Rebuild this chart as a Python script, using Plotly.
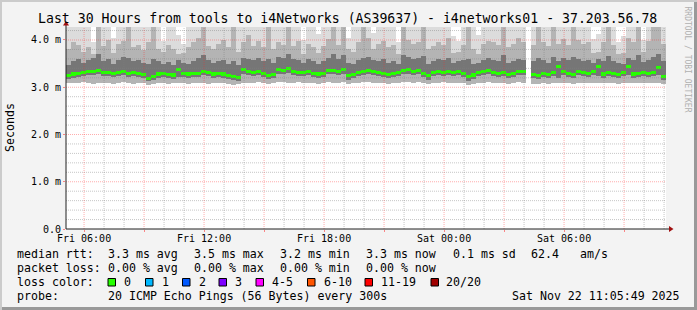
import numpy as np
import pandas as pd
import plotly.graph_objects as go

# ---------------- data ----------------
TITLE = "Last 30 Hours from tools to i4Networks (AS39637) - i4networks01 - 37.203.56.78"
START = "2025-11-21 05:05:49"
END = "2025-11-22 11:05:49"
STEP_MIN = 15

MEDIAN = [
    3.24, 3.28, 3.30, 3.31, 3.33, 3.34, 3.35, 3.31, 3.32, 3.29, 3.31, 3.33, 3.30, 3.32, 3.30, 3.27, 3.18, 3.23, 3.28, 3.29,
    3.27, 3.26, 3.38, 3.30, 3.28, 3.30, 3.29, 3.33, 3.31, 3.28, 3.29, 3.28, 3.25, 3.23, 3.21, 3.37, 3.33, 3.32, 3.33, 3.30,
    3.25, 3.27, 3.37, 3.35, 3.39, 3.34, 3.32, 3.31, 3.33, 3.29, 3.28, 3.30, 3.35, 3.36, 3.34, 3.37, 3.24, 3.27, 3.32, 3.33,
    3.36, 3.33, 3.31, 3.30, 3.27, 3.29, 3.32, 3.35, 3.37, 3.34, 3.36, 3.29, 3.24, 3.31, 3.33, 3.32, 3.34, 3.31, 3.33, 3.30,
    3.22, 3.26, 3.31, 3.33, 3.35, 3.31, 3.30, 3.31, 3.27, 3.30, 3.34, 3.33, None, 3.27, 3.25, 3.29, 3.27, 3.31, 3.44, 3.33,
    3.30, 3.27, 3.34, 3.31, 3.29, 3.33, 3.43, 3.28, 3.32, 3.30, 3.27, 3.31, 3.44, 3.28, 3.30, 3.32, 3.29, 3.31, 3.42, 3.22,
]
LO = [
    3.10, 3.08, 3.09, 3.11, 3.10, 3.07, 3.09, 3.08, 3.10, 3.06, 3.09, 3.11, 3.08, 3.07, 3.10, 3.08, 3.05, 3.06, 3.09, 3.08,
    3.07, 3.09, 3.10, 3.08, 3.06, 3.09, 3.10, 3.08, 3.07, 3.09, 3.10, 3.08, 3.06, 3.05, 3.06, 3.10, 3.09, 3.08, 3.11, 3.09,
    3.06, 3.08, 3.12, 3.11, 3.10, 3.09, 3.11, 3.08, 3.10, 3.09, 3.07, 3.10, 3.11, 3.09, 3.10, 3.12, 3.07, 3.08, 3.10, 3.11,
    3.12, 3.10, 3.09, 3.08, 3.07, 3.08, 3.10, 3.11, 3.12, 3.10, 3.11, 3.08, 3.06, 3.09, 3.10, 3.11, 3.10, 3.09, 3.10, 3.08,
    3.05, 3.07, 3.09, 3.10, 3.11, 3.09, 3.08, 3.10, 3.07, 3.09, 3.11, 3.10, None, 3.07, 3.06, 3.08, 3.07, 3.09, 3.08, 3.10,
    3.09, 3.07, 3.10, 3.09, 3.08, 3.10, 3.09, 3.08, 3.10, 3.09, 3.07, 3.09, 3.10, 3.08, 3.09, 3.10, 3.08, 3.09, 3.10, 3.06,
]
Q1 = [
    3.17, 3.20, 3.22, 3.23, 3.25, 3.25, 3.27, 3.23, 3.24, 3.21, 3.23, 3.25, 3.22, 3.24, 3.22, 3.19, 3.13, 3.15, 3.20, 3.21,
    3.19, 3.18, 3.21, 3.22, 3.20, 3.22, 3.21, 3.25, 3.23, 3.20, 3.21, 3.20, 3.17, 3.15, 3.13, 3.28, 3.25, 3.24, 3.25, 3.22,
    3.17, 3.19, 3.28, 3.27, 3.30, 3.26, 3.24, 3.23, 3.25, 3.21, 3.20, 3.22, 3.27, 3.28, 3.26, 3.28, 3.16, 3.19, 3.24, 3.25,
    3.28, 3.25, 3.23, 3.22, 3.19, 3.21, 3.24, 3.27, 3.28, 3.26, 3.28, 3.21, 3.16, 3.23, 3.25, 3.24, 3.26, 3.23, 3.25, 3.22,
    3.14, 3.18, 3.23, 3.25, 3.27, 3.23, 3.22, 3.23, 3.19, 3.22, 3.26, 3.25, None, 3.19, 3.17, 3.21, 3.19, 3.23, 3.20, 3.25,
    3.22, 3.19, 3.26, 3.23, 3.21, 3.25, 3.23, 3.20, 3.24, 3.22, 3.19, 3.23, 3.25, 3.20, 3.22, 3.24, 3.21, 3.23, 3.25, 3.16,
]
Q3 = [
    3.48, 3.55, 3.60, 3.52, 3.58, 3.62, 3.70, 3.55, 3.60, 3.50, 3.57, 3.65, 3.62, 3.55, 3.58, 3.52, 3.50, 3.60, 3.55, 3.50,
    3.53, 3.48, 3.58, 3.52, 3.50, 3.56, 3.62, 3.68, 3.57, 3.52, 3.55, 3.58, 3.50, 3.55, 3.47, 3.62, 3.60, 3.57, 3.62, 3.55,
    3.60, 3.52, 3.65, 3.62, 3.70, 3.60, 3.57, 3.52, 3.60, 3.55, 3.50, 3.56, 3.62, 3.70, 3.60, 3.68, 3.52, 3.50, 3.58, 3.62,
    3.65, 3.57, 3.55, 3.60, 3.52, 3.55, 3.50, 3.68, 3.65, 3.60, 3.62, 3.66, 3.50, 3.55, 3.60, 3.57, 3.62, 3.52, 3.55, 3.58,
    3.60, 3.50, 3.52, 3.57, 3.62, 3.58, 3.55, 3.68, 3.52, 3.56, 3.60, 3.58, None, 3.55, 3.62, 3.57, 3.52, 3.65, 3.56, 3.62,
    3.58, 3.65, 3.60, 3.55, 3.57, 3.52, 3.60, 3.55, 3.66, 3.56, 3.52, 3.50, 3.62, 3.57, 3.68, 3.54, 3.58, 3.65, 3.70, 3.55,
]
P90 = [
    3.80, 3.95, 3.90, 3.75, 3.85, 3.70, 4.50, 3.88, 4.00, 3.72, 3.92, 3.98, 4.50, 3.85, 3.90, 3.78, 3.95, 4.50, 3.82, 3.75,
    3.90, 3.80, 3.70, 3.72, 3.85, 3.95, 4.05, 4.50, 3.88, 3.80, 3.92, 4.00, 3.85, 4.50, 3.75, 3.95, 4.10, 3.88, 3.98, 3.85,
    4.50, 3.82, 3.95, 3.90, 4.50, 3.88, 3.97, 3.70, 3.92, 3.85, 3.72, 3.88, 4.02, 4.50, 3.90, 4.50, 3.80, 3.75, 3.95, 4.50,
    4.05, 3.80, 3.92, 3.98, 3.85, 3.90, 3.70, 4.50, 4.00, 3.92, 3.95, 4.50, 3.82, 3.88, 3.96, 3.90, 4.05, 3.72, 3.75, 3.90,
    4.50, 3.80, 3.70, 3.92, 3.98, 3.95, 3.90, 4.50, 3.85, 3.92, 4.05, 3.95, None, 3.90, 4.50, 3.95, 3.88, 4.50, 3.92, 4.02,
    3.90, 4.50, 4.00, 3.92, 3.95, 3.72, 3.75, 3.96, 4.50, 3.90, 3.70, 3.72, 4.05, 3.95, 4.50, 3.75, 3.98, 4.50, 4.50, 3.92,
]
HI = [
    4.50, 4.50, 4.50, 4.50, 4.50, 3.95, 4.50, 4.50, 4.50, 4.05, 4.50, 4.50, 4.50, 4.50, 4.50, 4.50, 4.50, 4.50, 4.50, 3.98,
    4.50, 4.50, 4.10, 3.92, 4.50, 4.50, 4.50, 4.50, 4.50, 4.50, 4.50, 4.50, 4.50, 4.50, 4.50, 4.50, 4.50, 4.50, 4.50, 4.50,
    4.50, 4.50, 4.50, 4.50, 4.50, 4.50, 4.50, 4.00, 4.50, 4.50, 4.12, 4.50, 4.50, 4.50, 4.50, 4.50, 4.05, 4.50, 4.50, 4.50,
    4.50, 4.15, 4.50, 4.50, 4.50, 4.50, 3.95, 4.50, 4.50, 4.50, 4.50, 4.50, 4.50, 4.50, 4.50, 4.50, 4.50, 4.08, 3.98, 4.50,
    4.50, 4.50, 4.10, 4.50, 4.50, 4.50, 4.50, 4.50, 4.50, 4.50, 4.50, 4.50, None, 4.50, 4.50, 4.50, 4.50, 4.50, 4.50, 4.50,
    4.50, 4.50, 4.50, 4.50, 4.50, 4.02, 4.12, 4.50, 4.50, 4.50, 3.96, 4.08, 4.50, 4.50, 4.50, 4.00, 4.50, 4.50, 4.50, 4.50,
]

X_TICKS = ["2025-11-21 06:00", "2025-11-21 09:00", "2025-11-21 12:00", "2025-11-21 15:00",
           "2025-11-21 18:00", "2025-11-21 21:00", "2025-11-22 00:00", "2025-11-22 03:00",
           "2025-11-22 06:00", "2025-11-22 09:00"]
X_LABELS = ["Fri 06:00", "", "Fri 12:00", "", "Fri 18:00", "", "Sat 00:00", "", "Sat 06:00", ""]
Y_TICKS = [0, 1, 2, 3, 4]
Y_LABELS = ["0.0", "1.0 m", "2.0 m", "3.0 m", "4.0 m"]
Y_TITLE = "Seconds"
SIDE_TEXT = "RRDTOOL / TOBI OETIKER"

LEGEND_RTT = ["median rtt:", "3.3 ms avg", "3.5 ms max", "3.2 ms min", "3.3 ms now", "0.1 ms sd", "62.4", "am/s"]
LEGEND_LOSS = ["packet loss:", "0.00 % avg", "0.00 % max", "0.00 % min", "0.00 % now"]
LOSS_HEAD = "loss color:"
LOSS_NAMES = ["0", "1", "2", "3", "4-5", "6-10", "11-19", "20/20"]
LOSS_COLORS = ["#26ff00", "#00b8ff", "#0059ff", "#7e00ff", "#ff00ff", "#ff5500", "#ff0000", "#a00000"]
PROBE = ["probe:", "20 ICMP Echo Pings (56 Bytes) every 300s"]
STAMP = "Sat Nov 22 11:05:49 2025"

# ---------------- geometry / style ----------------
W, H = 697, 310
PL, PR, PT, PB = 66, 666, 27, 229
Y_MAX = 4.275
FONT = "DejaVu Sans Mono"


def xp(px):
    return (px - PL) / (PR - PL)


def yp(py):
    return (PB - py) / (PB - PT)


n = len(MEDIAN)
start = pd.Timestamp(START)
step = pd.Timedelta(minutes=STEP_MIN)
centers = [start + step * (i + 0.5) for i in range(n)]
step_ms = STEP_MIN * 60 * 1000

arr = lambda a: np.array([np.nan if v is None else v for v in a], dtype=float)
med, lo, q1, q3, p90, hi = map(arr, (MEDIAN, LO, Q1, Q3, P90, HI))

fig = go.Figure()
bands = [(lo, hi, "#dcdcdc"), (lo, p90, "#b4b4b4"), (q1, q3, "#767676")]
for b0, b1, col in bands:
    fig.add_trace(go.Bar(x=centers, base=b0, y=b1 - b0, width=step_ms,
                         marker=dict(color=col, line=dict(width=0)),
                         hoverinfo="skip", showlegend=False))
# median line (loss colour 0)
thick = 0.065
fig.add_trace(go.Bar(x=centers, base=med - thick / 2, y=np.where(np.isnan(med), np.nan, thick),
                     width=step_ms, marker=dict(color=LOSS_COLORS[0], line=dict(width=0)),
                     hoverinfo="skip", showlegend=False))

GRID = "rgba(128,128,128,0.45)"
MGRID = "rgba(255,40,40,0.38)"
shapes = []
# grid (drawn above the smoke like rrdtool)
minor_x = pd.date_range("2025-11-21 06:00", "2025-11-22 11:00", freq="1h")
for t in minor_x:
    if t.hour % 3:
        shapes.append(dict(type="line", xref="x", yref="paper", x0=t, x1=t, y0=0, y1=1,
                           line=dict(color=GRID, width=1, dash="1px,1px"), layer="above"))
for v in np.arange(0.2, 4.21, 0.2):
    if abs(v - round(v)) > 1e-6:
        shapes.append(dict(type="line", xref="paper", yref="y", x0=0, x1=1, y0=v, y1=v,
                           line=dict(color=GRID, width=1, dash="1px,1px"), layer="above"))
for t in X_TICKS:
    shapes.append(dict(type="line", xref="x", yref="paper", x0=t, x1=t, y0=0, y1=1,
                       line=dict(color=MGRID, width=1, dash="1px,1px"), layer="above"))
for v in Y_TICKS[1:]:
    shapes.append(dict(type="line", xref="paper", yref="y", x0=0, x1=1, y0=v, y1=v,
                       line=dict(color=MGRID, width=1, dash="1px,1px"), layer="above"))

# axes with arrows
AX = "#202020"
shapes.append(dict(type="line", xref="paper", yref="paper", x0=xp(PL), x1=xp(670), y0=0, y1=0,
                   line=dict(color=AX, width=1), layer="above"))
shapes.append(dict(type="line", xref="paper", yref="paper", x0=0, x1=0, y0=0, y1=yp(24),
                   line=dict(color=AX, width=1), layer="above"))
ARROW = "#a01010"
shapes.append(dict(type="path", xref="paper", yref="paper",
                   path=f"M {xp(673.5)} {yp(PB)} L {xp(669)} {yp(PB - 3)} L {xp(669)} {yp(PB + 3)} Z",
                   fillcolor=ARROW, line=dict(width=0), layer="above"))
shapes.append(dict(type="path", xref="paper", yref="paper",
                   path=f"M {xp(PL)} {yp(21)} L {xp(PL - 3)} {yp(25.5)} L {xp(PL + 3)} {yp(25.5)} Z",
                   fillcolor=ARROW, line=dict(width=0), layer="above"))

# 3D frame
shapes.append(dict(type="rect", xref="paper", yref="paper", x0=xp(0), x1=xp(W), y0=yp(0), y1=yp(2),
                   fillcolor="#cbcbcb", line=dict(width=0), layer="below"))
shapes.append(dict(type="rect", xref="paper", yref="paper", x0=xp(0), x1=xp(2), y0=yp(0), y1=yp(H),
                   fillcolor="#cbcbcb", line=dict(width=0), layer="below"))
shapes.append(dict(type="rect", xref="paper", yref="paper", x0=xp(2), x1=xp(W), y0=yp(H - 3), y1=yp(H),
                   fillcolor="#999999", line=dict(width=0), layer="below"))
shapes.append(dict(type="rect", xref="paper", yref="paper", x0=xp(W - 3), x1=xp(W), y0=yp(2), y1=yp(H),
                   fillcolor="#999999", line=dict(width=0), layer="below"))

# legend colour boxes
box_x = [108, 145.5, 182.5, 219, 256, 307.5, 365, 431]
for bx, col in zip(box_x, LOSS_COLORS):
    shapes.append(dict(type="rect", xref="paper", yref="paper", x0=xp(bx), x1=xp(bx + 7.5),
                       y0=yp(286), y1=yp(278.5), fillcolor=col, line=dict(color="black", width=1)))

ann = []


def text(s, x, y, size=11.6, anchor="left", color="black", angle=0):
    ann.append(dict(text=s, x=xp(x), y=yp(y), xref="paper", yref="paper", showarrow=False,
                    xanchor=anchor, yanchor="middle", borderpad=0, textangle=angle,
                    font=dict(family=FONT, size=size, color=color)))


text(TITLE, 347, 18.5, size=13.2, anchor="center")
text(Y_TITLE, 10, 128, size=11.6, anchor="center", angle=-90)
text(SIDE_TEXT, 687.5, 59, size=8, anchor="center", color="#b0b0b0", angle=90)

rtt_x = [16, 107, 193, 279, 365, 451.5, 530, 579]
for s, x in zip(LEGEND_RTT, rtt_x):
    text(s, x, 254)
loss_x = [16, 107, 193, 279, 365]
for s, x in zip(LEGEND_LOSS, loss_x):
    text(s, x, 268)
text(LOSS_HEAD, 16, 282)
name_x = [123, 160.5, 197.5, 234, 271, 322.5, 380, 445.5]
for s, x in zip(LOSS_NAMES, name_x):
    text(s, x, 282)
text(PROBE[0], 16, 296)
text(PROBE[1], 107, 296)
text(STAMP, 681, 296, anchor="right")

fig.update_layout(
    width=W, height=H, autosize=False,
    margin=dict(l=PL, r=W - PR, t=PT, b=H - PB, pad=0),
    paper_bgcolor="#f3f3f3", plot_bgcolor="#ffffff",
    barmode="overlay", bargap=0, showlegend=False,
    shapes=shapes, annotations=ann,
    xaxis=dict(type="date", range=[START, END], tickvals=X_TICKS, ticktext=X_LABELS,
               ticks="outside", ticklen=2, tickcolor="rgba(255,60,60,0.6)", tickwidth=1,
               showgrid=False, zeroline=False, showline=False, fixedrange=True,
               ticklabelstandoff=-2,
               tickfont=dict(family=FONT, size=10, color="black"), tickangle=0),
    yaxis=dict(range=[0, Y_MAX], tickvals=Y_TICKS, ticktext=Y_LABELS,
               ticks="outside", ticklen=2, tickcolor="rgba(255,60,60,0.6)", tickwidth=1,
               showgrid=False, zeroline=False, showline=False, fixedrange=True,
               tickfont=dict(family=FONT, size=10, color="black")),
)

fig.write_html("out.html", config={"displayModeBar": False})
